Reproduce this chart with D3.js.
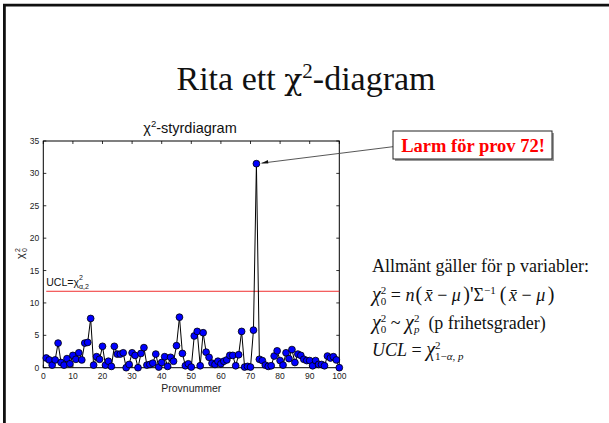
<!DOCTYPE html>
<html>
<head>
<meta charset="utf-8">
<script src="https://d3js.org/d3.v7.min.js"></script>
<style>
  html, body { margin: 0; padding: 0; background: #fff; }
  svg { display: block; }
  svg text { white-space: pre; }
  .tick-label { font-family: "Liberation Sans", Arial, sans-serif; font-size: 8.5px; fill: #222; }
  .serif { font-family: "Liberation Serif", "Times New Roman", serif; }
  .sans { font-family: "Liberation Sans", Arial, sans-serif; }
</style>
</head>
<body>
<div id="chart"></div>
<script>
// chi^2 values per sample (prov 1..100)
const samples = d3.range(1, 101);
const chi2 = [
  1.5, 1.2, 0.4, 1.2, 3.8, 0.8, 0.4, 1.4, 0.6, 1.9,
  1.3, 2.3, 1.2, 3.8, 3.9, 7.6, 0.4, 1.7, 1.3, 3.3,
  0.4, 1.0, 0.2, 3.3, 2.1, 2.1, 2.3, 0.0, 0.5, 2.3,
  1.9, 0.0, 2.2, 3.1, 0.4, 0.5, 0.7, 2.1, 0.1, 0.8,
  1.7, 0.2, 1.6, 1.0, 3.4, 7.8, 2.2, 0.3, 0.6, 0.1,
  4.9, 5.6, 0.3, 5.4, 2.4, 1.6, 0.7, 0.5, 1.0, 0.6,
  1.0, 1.2, 1.9, 1.9, 0.3, 2.0, 5.6, 0.1, 0.2, 0.1,
  5.8, 31.5, 1.3, 1.1, 0.4, 0.2, 0.3, 1.8, 2.6, 1.1,
  0.4, 2.3, 1.4, 2.8, 0.8, 2.1, 1.9, 1.3, 1.1, 1.1,
  0.3, 1.1, 0.5, 0.5, 0.3, 1.8, 1.5, 1.7, 1.2, 0.0
];
const ucl = 11.8;
const xTicks = d3.range(0, 101, 10);
const yTicks = d3.range(0, 36, 5);
const alarmSample = 72;

const W = 609, H = 423;
const svg = d3.select("#chart").append("svg").attr("width", W).attr("height", H);

// lays out a row of text pieces (sub/superscripts), measuring as it goes
function mathLine(cls, x0, yy, base, parts) {
  let cx = x0, stackW = 0;
  const g = svg.append("g").attr("class", cls).attr("fill", "#111");
  parts.forEach(p => {
    const t = g.append("text")
      .attr("x", cx + (p.lpad || 0)).attr("y", yy + (p.dy || 0))
      .attr("font-size", p.sz || base)
      .attr("font-style", p.it ? "italic" : "normal")
      .text(p.t);
    const w = t.node().getComputedTextLength() + (p.lpad || 0) + (p.pad || 0);
    if (p.stack) { stackW = Math.max(stackW, w); }
    else { cx += Math.max(w, stackW); stackW = 0; }
  });
  return g;
}

// slide frame (top and left edge)
svg.append("path")
   .attr("d", `M4.4,${H} L4.4,5.2 L${W},5.2`)
   .attr("fill", "none").attr("stroke", "#111").attr("stroke-width", 2.8);

// slide title
const title = svg.append("text").attr("class", "serif")
   .attr("x", 306).attr("y", 90).attr("text-anchor", "middle")
   .attr("font-size", 34).attr("fill", "#111");
title.append("tspan").text("Rita ett ");
title.append("tspan").attr("font-family", "DejaVu Serif").attr("font-size", 30).text("χ");
title.append("tspan").attr("dy", -12).attr("font-size", 21).text("2");
title.append("tspan").attr("dy", 12).text("-diagram");

// plot area
const x = d3.scaleLinear().domain([0, 100]).range([43.3, 339.3]);
const y = d3.scaleLinear().domain([0, 35]).range([367.7, 141]);

const plot = svg.append("g");
plot.append("rect")
    .attr("x", x(0)).attr("y", y(35))
    .attr("width", x(100) - x(0)).attr("height", y(0) - y(35))
    .attr("fill", "#fff").attr("stroke", "#000").attr("stroke-width", 1);

// ticks on all four sides, pointing inward
const tl = 3;
plot.selectAll(".xt").data(xTicks).enter().append("path")
    .attr("d", d => `M${x(d)},${y(0)}v${-tl}M${x(d)},${y(35)}v${tl}`)
    .attr("stroke", "#000").attr("stroke-width", 0.8);
plot.selectAll(".yt").data(yTicks).enter().append("path")
    .attr("d", d => `M${x(0)},${y(d)}h${tl}M${x(100)},${y(d)}h${-tl}`)
    .attr("stroke", "#000").attr("stroke-width", 0.8);

plot.selectAll(".xl").data(xTicks).enter().append("text")
    .attr("class", "tick-label")
    .attr("x", d => x(d)).attr("y", y(0) + 11.5)
    .attr("text-anchor", "middle").text(d => d);
plot.selectAll(".yl").data(yTicks).enter().append("text")
    .attr("class", "tick-label")
    .attr("x", x(0) - 4).attr("y", d => y(d) + 3)
    .attr("text-anchor", "end").text(d => d);

// axis labels
svg.append("text").attr("class", "sans")
   .attr("x", (x(0) + x(100)) / 2).attr("y", 391.5)
   .attr("text-anchor", "middle").attr("font-size", 10.5).attr("fill", "#222")
   .text("Provnummer");

const yl = svg.append("g").attr("transform", "translate(24,252) rotate(-90)");
yl.append("text").attr("class", "sans").attr("x", -4).attr("y", 0)
  .attr("text-anchor", "middle").attr("font-size", 11).attr("fill", "#222").text("χ");
yl.append("text").attr("class", "sans").attr("x", 0).attr("y", -4.5)
  .attr("font-size", 7).attr("fill", "#222").text("2");
yl.append("text").attr("class", "sans").attr("x", 0).attr("y", 2.5)
  .attr("font-size", 7).attr("fill", "#222").text("0");

// chart title
const ct = svg.append("text").attr("class", "sans")
   .attr("x", 190).attr("y", 133).attr("text-anchor", "middle")
   .attr("font-size", 14.5).attr("fill", "#111");
ct.append("tspan").text("χ");
ct.append("tspan").attr("dy", -6).attr("font-size", 9.5).text("2");
ct.append("tspan").attr("dy", 6).text("-styrdiagram");

// UCL line + label
plot.append("line")
    .attr("x1", x(1)).attr("x2", x(100))
    .attr("y1", y(ucl)).attr("y2", y(ucl))
    .attr("stroke", "#f03030").attr("stroke-width", 1);
mathLine("sans", x(1), 286, 10.5, [
  { t: "UCL=χ" },
  { t: "2", sz: 7, dy: -6, stack: true },
  { t: "α,2", sz: 7, dy: 3 }
]);

// series
const pts = samples.map((s, i) => [s, chi2[i]]);
plot.append("path").datum(pts)
    .attr("fill", "none").attr("stroke", "#000").attr("stroke-width", 1)
    .attr("d", d3.line().x(d => x(d[0])).y(d => y(d[1])));
plot.selectAll(".pt").data(pts).enter().append("circle")
    .attr("cx", d => x(d[0])).attr("cy", d => y(d[1])).attr("r", 3.4)
    .attr("fill", "#0000ff").attr("stroke", "#000").attr("stroke-width", 0.8);

// alarm callout
const ax = x(alarmSample) + 5, ay = y(chi2[alarmSample - 1]) - 0.5;
svg.append("line")
   .attr("x1", 393).attr("y1", 146.7).attr("x2", ax).attr("y2", ay)
   .attr("stroke", "#444").attr("stroke-width", 0.9);
svg.append("path")
   .attr("d", `M${ax},${ay} l6.5,-3.2 l0.4,3.5 z`).attr("fill", "#111");

svg.append("rect").attr("x", 395).attr("y", 133).attr("width", 159).attr("height", 28)
   .attr("fill", "#999");
svg.append("rect").attr("x", 393).attr("y", 131).attr("width", 159).attr("height", 28)
   .attr("fill", "#fff").attr("stroke", "#222").attr("stroke-width", 1);
svg.append("text").attr("class", "serif")
   .attr("x", 473).attr("y", 152).attr("text-anchor", "middle")
   .attr("font-size", 18.5).attr("font-weight", "bold").attr("fill", "#ff0000")
   .text("Larm för prov 72!");

// formulas on the right
const fx = 372, fs = 18;
svg.append("text").attr("class", "serif").attr("x", fx).attr("y", 272)
   .attr("font-size", fs).attr("fill", "#111").text("Allmänt gäller för p variabler:");

const sup = (t) => ({ t, sz: 11, dy: -7, stack: true });
const sub = (t, it) => ({ t, sz: 11, dy: 4, it });
const chi = { t: "χ", it: true, sz: 20 };
const lp = { t: "(", sz: 20, lpad: 1, pad: 2.5 };
const rp = (s) => ({ t: s, sz: 20, lpad: 2.5, pad: 0 });
mathLine("serif", fx, 301, fs, [
  chi, sup("2"), sub("0"),
  { t: " = " }, { t: "n", it: true }, lp, { t: "x̄", it: true }, { t: " − " },
  { t: "μ", it: true }, rp(")'"), { t: "Σ" }, { t: "−1", sz: 11, dy: -7, pad: 3 },
  lp, { t: "x̄", it: true }, { t: " − " }, { t: "μ", it: true }, rp(")")
]);
mathLine("serif", fx, 329, fs, [
  chi, sup("2"), sub("0"),
  { t: " ~ " }, chi, sup("2"), sub("p", true),
  { t: "  (p frihetsgrader)" }
]);
mathLine("serif", fx, 356, fs, [
  { t: "UCL", it: true }, { t: " = " }, chi, sup("2"),
  { t: "1−", sz: 11, dy: 4 }, { t: "α, p", sz: 11, dy: 4, it: true }
]);
</script>
</body>
</html>
